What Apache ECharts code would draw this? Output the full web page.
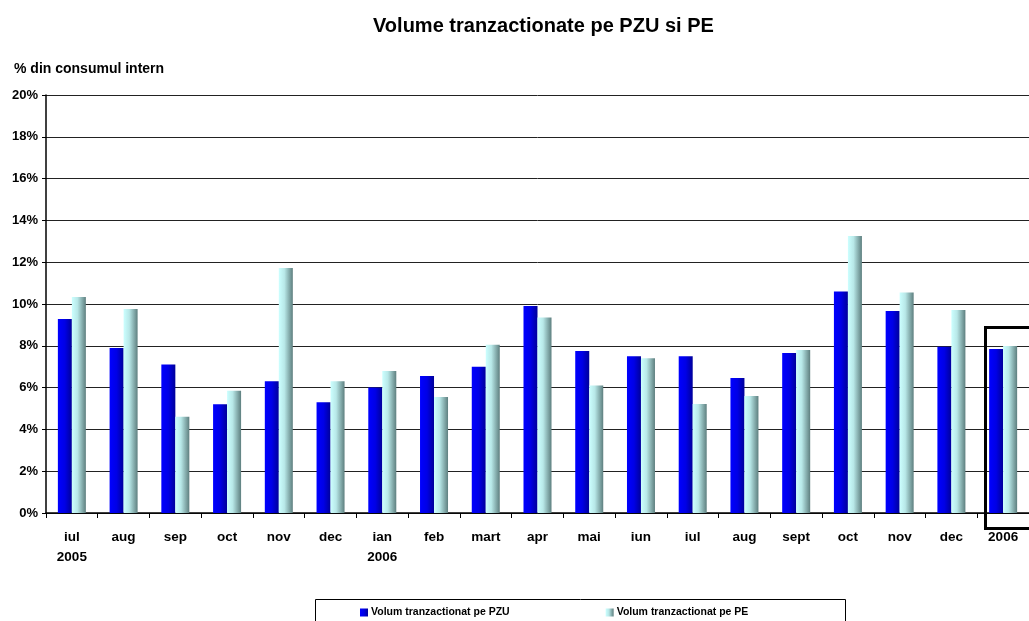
<!DOCTYPE html>
<html>
<head>
<meta charset="utf-8">
<script src="https://cdn.jsdelivr.net/npm/echarts@6/dist/echarts.min.js"></script>
<style>
html, body { margin: 0; padding: 0; background: #fff; }
#chartBox { width: 1029px; height: 621px; }
</style>
</head>
<body>
<div id="chartBox"></div>
<script>
// luni (categorii)
var months = ['iul\n2005', 'aug', 'sep', 'oct', 'nov', 'dec', 'ian\n2006', 'feb', 'mart', 'apr',
              'mai', 'iun', 'iul', 'aug', 'sept', 'oct', 'nov', 'dec', '2006'];
// % din consumul intern
var pzu = [9.28, 7.9, 7.1, 5.2, 6.3, 5.3, 6.0, 6.55, 7.0, 9.9, 7.75, 7.5, 7.5, 6.46, 7.66, 10.6, 9.67, 7.96, 7.85];
var pe  = [10.33, 9.76, 4.6, 5.85, 11.72, 6.3, 6.8, 5.55, 8.05, 9.35, 6.1, 7.4, 5.22, 5.6, 7.8, 13.25, 10.55, 9.71, 7.99];

var chartDom = document.getElementById('chartBox');
var myChart = echarts.init(chartDom);
var font = 'Liberation Sans, Arial, sans-serif';

var option = {
    animation: false,
    title: {
        text: 'Volume tranzactionate pe PZU si PE',
        left: 368,
        top: 11,
        textStyle: { fontFamily: font, fontSize: 20, fontWeight: 'bold', color: '#000' }
    },
    legend: {
        left: 355,
        top: 602,
        itemWidth: 8,
        itemHeight: 8,
        itemGap: 96,
        icon: 'rect',
        textStyle: { fontFamily: font, fontSize: 10.5, fontWeight: 'bold', color: '#000', padding: [0, 0, 0, -2] },
        data: ['Volum tranzactionat pe PZU', 'Volum tranzactionat pe PE']
    },
    grid: { left: 46, right: -5, top: 95, bottom: 108 },
    xAxis: {
        type: 'category',
        data: months,
        axisLine: { lineStyle: { color: '#000', width: 1.5 } },
        axisTick: { show: true, length: 5, lineStyle: { color: '#000' } },
        axisLabel: {
            interval: 0, margin: 14, lineHeight: 20,
            fontFamily: font, fontSize: 13.5, fontWeight: 'bold', color: '#000'
        }
    },
    yAxis: {
        type: 'value',
        min: 0, max: 20, interval: 2,
        axisLine: { show: true, lineStyle: { color: '#000', width: 1.5 } },
        axisTick: { show: true, length: 4, lineStyle: { color: '#000' } },
        splitLine: { lineStyle: { color: '#222', width: 1 } },
        axisLabel: {
            formatter: '{value}%', margin: 8,
            fontFamily: font, fontSize: 13, fontWeight: 'bold', color: '#000'
        }
    },
    series: [
        {
            name: 'Volum tranzactionat pe PZU',
            type: 'bar',
            barWidth: 14,
            barGap: '0%',
            itemStyle: {
                color: new echarts.graphic.LinearGradient(0, 0, 1, 0, [
                    { offset: 0, color: '#0000ff' },
                    { offset: 0.5, color: '#0000e6' },
                    { offset: 1, color: '#00009a' }
                ])
            },
            data: pzu
        },
        {
            name: 'Volum tranzactionat pe PE',
            type: 'bar',
            barWidth: 14,
            itemStyle: {
                color: new echarts.graphic.LinearGradient(0, 0, 1, 0, [
                    { offset: 0, color: '#ccffff' },
                    { offset: 0.4, color: '#b8e8e8' },
                    { offset: 1, color: '#5e7f7f' }
                ])
            },
            data: pe
        }
    ],
    graphic: [
        {
            type: 'text', left: 14, top: 62,
            style: { text: '% din consumul intern', font: 'bold 14px ' + font, fill: '#000' }
        },
        {
            type: 'rect', left: 313, top: 597, z: 100,
            shape: { width: 530, height: 30 },
            style: { fill: 'none', stroke: '#000', lineWidth: 1 }
        },
        {
            type: 'rect', left: 983, top: 325, z: 100,
            shape: { width: 60, height: 201 },
            style: { fill: 'none', stroke: '#000', lineWidth: 3 }
        }
    ]
};
myChart.setOption(option);
</script>
</body>
</html>
